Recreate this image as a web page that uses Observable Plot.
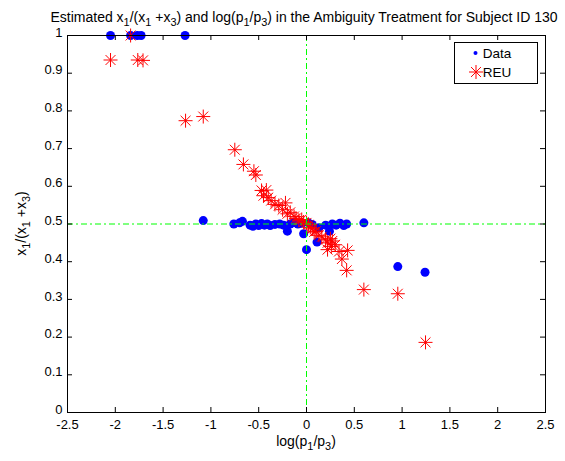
<!DOCTYPE html>
<html><head><meta charset="utf-8">
<script src="https://cdn.jsdelivr.net/npm/d3@7"></script>
<script src="https://cdn.jsdelivr.net/npm/@observablehq/plot@0.6"></script>
<style>
body{margin:0;background:#fff}
svg{font-family:"Liberation Sans",Arial,sans-serif}
</style>
</head><body><div id="chart"></div>
<script>
// Observed data (blue dots)
const dataX = [-2.05,-1.84,-1.77,-1.73,-1.27,
  -1.08,-0.76,-0.70,-0.67,-0.59,-0.56,-0.53,-0.50,-0.47,-0.44,-0.41,-0.38,-0.33,-0.28,-0.24,-0.20,-0.17,-0.13,-0.09,-0.05,-0.03,0.00,0.02,0.06,0.11,0.13,0.20,0.24,0.27,0.31,0.35,0.39,0.42,0.60,0.955,1.24];
const dataY = [1,1,1,1,1,
  0.509,0.500,0.503,0.507,0.497,0.494,0.500,0.496,0.501,0.497,0.500,0.496,0.499,0.500,0.497,0.481,0.500,0.504,0.500,0.502,0.474,0.432,0.503,0.499,0.452,0.490,0.497,0.481,0.500,0.497,0.502,0.496,0.500,0.503,0.387,0.372];
// REU model predictions (red asterisks)
const reuX = [-1.84,-2.05,-1.765,-1.71,-1.265,-1.08,
  -0.75,-0.66,-0.55,-0.53,-0.47,-0.42,-0.45,-0.40,-0.37,-0.33,-0.29,-0.22,-0.25,-0.20,-0.17,-0.13,-0.11,-0.08,-0.05,-0.03,0.00,0.02,0.04,0.06,0.08,0.10,0.13,0.16,0.20,0.22,0.25,0.27,0.30,0.22,0.26,0.34,0.43,0.37,0.42,0.60,0.955,1.245];
const reuY = [1.0,0.935,0.935,0.934,0.774,0.785,
  0.697,0.658,0.640,0.630,0.589,0.590,0.575,0.570,0.562,0.552,0.549,0.556,0.538,0.527,0.531,0.520,0.515,0.510,0.512,0.505,0.503,0.498,0.491,0.487,0.479,0.481,0.470,0.466,0.458,0.450,0.461,0.455,0.445,0.432,0.440,0.427,0.430,0.407,0.377,0.326,0.315,0.186];
const xTicks = [-2.5,-2,-1.5,-1,-0.5,0,0.5,1,1.5,2,2.5];
const yTicks = [0,0.1,0.2,0.3,0.4,0.5,0.6,0.7,0.8,0.9,1];
const refX = [0];
const refY = [0.5];
const seriesNames = ["Data","REU"];

const blue = dataX.map((x,i)=>({x, y:dataY[i]}));
const red = reuX.map((x,i)=>({x, y:reuY[i]}));

const W=565, H=461, mL=67, mR=20, mT=35, mB=49;
const PW=W-mL-mR, PH=H-mT-mB;

const asterisk = {draw(ctx, size){
  const r = Math.sqrt(size/Math.PI), d = r*Math.SQRT1_2;
  ctx.moveTo(-r,0); ctx.lineTo(r,0);
  ctx.moveTo(0,-r); ctx.lineTo(0,r);
  ctx.moveTo(-d,-d); ctx.lineTo(d,d);
  ctx.moveTo(-d,d); ctx.lineTo(d,-d);
}};

const green = {stroke:"#00ff00", strokeWidth:1, strokeDasharray:"6,3,2,3"};

const chart = Plot.plot({
  width:W, height:H, marginLeft:mL, marginRight:mR, marginTop:mT, marginBottom:mB,
  x:{domain:[-2.5,2.5]}, y:{domain:[0,1]},
  style:{fontFamily:'"Liberation Sans",Arial,sans-serif', fontSize:"13px", background:"white", color:"black"},
  marks:[
    Plot.dot(blue, {x:"x", y:"y", r:4.5, fill:"#0000ff", stroke:null}),
    Plot.dot(red, {x:"x", y:"y", r:7, symbol:asterisk, stroke:"#ff0000", strokeWidth:1, fill:"none"}),
    Plot.ruleY(refY, {y:d=>d, ...green}),
    Plot.ruleX(refX, {x:d=>d, ...green}),
    Plot.ruleX(xTicks, {x:d=>d, insetTop:PH-5, stroke:"black"}),
    Plot.ruleX(xTicks, {x:d=>d, insetBottom:PH-5, stroke:"black"}),
    Plot.ruleY(yTicks, {y:d=>d, insetRight:PW-5, stroke:"black"}),
    Plot.ruleY(yTicks, {y:d=>d, insetLeft:PW-5, stroke:"black"}),
    Plot.frame({stroke:"black"}),
    Plot.axisX(xTicks, {tickSize:0, tickPadding:7, tickFormat:d=>String(d), label:null, fontSize:13}),
    Plot.axisY(yTicks, {tickSize:0, tickPadding:5, tickFormat:d=>String(d), label:null, fontSize:13, dy:-3})
  ]
});
document.getElementById("chart").appendChild(chart);

const svg = d3.select(chart);
function richText(g, parts, size){
  let shifted = false;
  const sh = Math.round(size*0.25);
  for (const [s, sub] of parts){
    const ts = g.append("tspan").text(s);
    if (sub && !shifted){ ts.attr("dy", sh).attr("font-size", size*0.78); shifted = true; }
    else if (!sub && shifted){ ts.attr("dy", -sh); shifted = false; }
    else if (sub) ts.attr("font-size", size*0.78);
  }
}
const title = svg.append("text").attr("x", mL+PW/2 - 2).attr("y", 22)
  .attr("text-anchor","middle").attr("font-size",14).attr("fill","black");
richText(title, [["Estimated x",0],["1",1],["/(x",0],["1",1],[" +x",0],["3",1],[") and log(p",0],["1",1],["/p",0],["3",1],[") in the Ambiguity Treatment for Subject ID 130",0]], 14);

const xl = svg.append("text").attr("x", mL+PW/2).attr("y", 446)
  .attr("text-anchor","middle").attr("font-size",14).attr("fill","black");
richText(xl, [["log(p",0],["1",1],["/p",0],["3",1],[")",0]], 14);

const yl = svg.append("text").attr("transform", `translate(26,${mT+PH/2}) rotate(-90)`)
  .attr("text-anchor","middle").attr("font-size",14).attr("fill","black");
richText(yl, [["x",0],["1",1],["/(x",0],["1",1],[" +x",0],["3",1],[")",0]], 14);

// Legend
const lg = svg.append("g");
lg.append("rect").attr("x",454.5).attr("y",42.5).attr("width",83).attr("height",41)
  .attr("fill","white").attr("stroke","black");
lg.append("circle").attr("cx",475.5).attr("cy",53).attr("r",2).attr("fill","#0000ff");
lg.append("text").attr("x",497).attr("y",58).attr("font-size",13.5).text(seriesNames[0]);
lg.append("path").attr("transform","translate(476,72)")
  .attr("d", d3.symbol(asterisk, 49*Math.PI)()).attr("stroke","#ff0000").attr("fill","none");
lg.append("text").attr("x",497).attr("y",77).attr("font-size",13.5).text(seriesNames[1]);
</script>
</body></html>
